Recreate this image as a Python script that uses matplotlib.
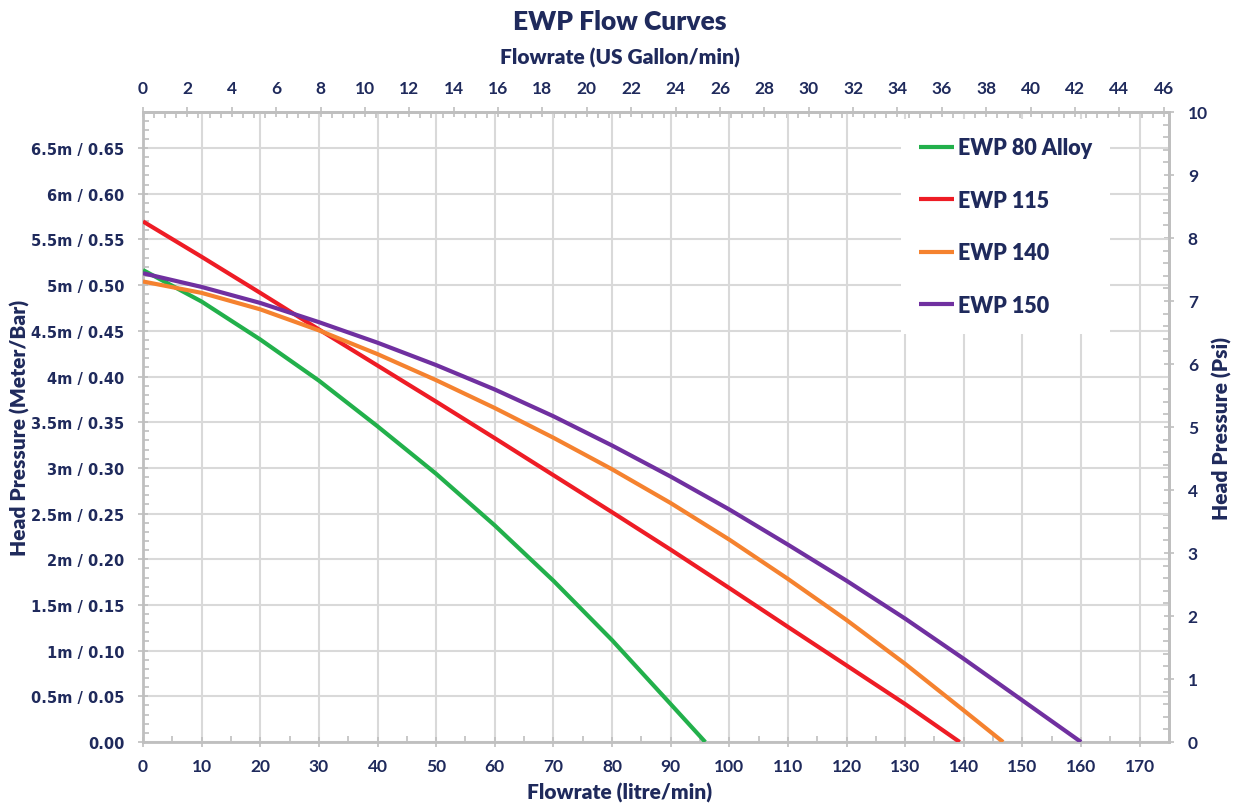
import matplotlib
matplotlib.use("Agg")
import matplotlib.pyplot as plt
from matplotlib.ticker import MultipleLocator, FixedLocator

# ---------------- data (litre/min vs bar) ----------------
ewp80_flow = [0, 10, 20, 30, 40, 50, 60, 70, 80, 90, 95.9]
ewp80_head = [0.5165, 0.482, 0.4405, 0.3955, 0.3455, 0.2935, 0.237, 0.1765, 0.1115, 0.0415, 0.0]

ewp115_flow = [0, 10, 20, 30, 40, 50, 60, 70, 80, 90, 100, 110, 120, 130, 139.3]
ewp115_head = [0.5697, 0.531, 0.4915, 0.4515, 0.412, 0.3725, 0.3325, 0.292, 0.2515, 0.2105, 0.1685, 0.126, 0.0838, 0.0415, 0.0]

ewp140_flow = [0, 10, 20, 30, 40, 50, 60, 70, 80, 90, 100, 110, 120, 130, 140, 146.7]
ewp140_head = [0.504, 0.4915, 0.4735, 0.4505, 0.4245, 0.396, 0.3655, 0.333, 0.2985, 0.2615, 0.2215, 0.1785, 0.1335, 0.0855, 0.0345, 0.0]

ewp150_flow = [0, 10, 20, 30, 40, 50, 60, 70, 80, 90, 100, 110, 120, 130, 140, 150, 160]
ewp150_head = [0.513, 0.498, 0.4805, 0.4595, 0.437, 0.4125, 0.3858, 0.3565, 0.3245, 0.2905, 0.2545, 0.216, 0.1765, 0.135, 0.091, 0.0455, 0.0]

series_names = ["EWP 80 Alloy", "EWP 115", "EWP 140", "EWP 150"]
series_colors = ["#22b04b", "#ee1c25", "#f5822f", "#7030a0"]

bottom_ticks = list(range(0, 171, 10))
top_ticks = list(range(0, 47, 2))
left_ticks = [i * 0.05 for i in range(14)]
left_labels = ["0.00"] + [f"{b*10:g}m / {b:.2f}" for b in left_ticks[1:]]
right_ticks = list(range(0, 11))

LITRE_PER_GAL = 3.785
PSI_PER_BAR = 14.5038

# ---------------- styling ----------------
NAVY = "#1f2a5c"
SPINE = "#bfbfbf"
GRID = "#d9d9d9"
FONT = ["Lato", "DejaVu Sans"]

fig = plt.figure(figsize=(12.39, 8.04), dpi=100)
ax = fig.add_axes([143 / 1239, 61 / 804, 1026 / 1239, 630 / 804])

flows = [ewp80_flow, ewp115_flow, ewp140_flow, ewp150_flow]
heads = [ewp80_head, ewp115_head, ewp140_head, ewp150_head]
for f, h, name, c in zip(flows, heads, series_names, series_colors):
    ax.plot(f, h, color=c, lw=3.0, label=name, solid_capstyle="butt",
            solid_joinstyle="round", zorder=3)

ax.set_xlim(0, 175)
ax.set_ylim(0, 10 / PSI_PER_BAR)

ax.xaxis.set_major_locator(FixedLocator(bottom_ticks))
ax.xaxis.set_minor_locator(MultipleLocator(5))
ax.yaxis.set_major_locator(FixedLocator(left_ticks))
ax.yaxis.set_minor_locator(MultipleLocator(0.01))
ax.set_yticklabels(left_labels)

ax.grid(which="major", color=GRID, lw=1.5, zorder=0)
ax.set_axisbelow(True)

for s in ax.spines.values():
    s.set_color(SPINE)
    s.set_linewidth(2)

def style_ticks(a, axis):
    a.tick_params(axis=axis, which="major", direction="inout", length=7, width=1.2,
                  color=SPINE, labelcolor=NAVY, pad=8)
    a.tick_params(axis=axis, which="minor", direction="in", length=4, width=1.2, color=SPINE)

style_ticks(ax, "x")
style_ticks(ax, "y")
for lab in ax.get_xticklabels():
    lab.set_fontfamily(FONT); lab.set_fontweight("bold"); lab.set_fontsize(12.5)
for lab in ax.get_yticklabels():
    lab.set_fontfamily(["DejaVu Sans"]); lab.set_fontweight("bold"); lab.set_fontsize(10.5)
ax.tick_params(axis="y", which="major", pad=10)

# top axis: US gallon/min
top = ax.secondary_xaxis("top", functions=(lambda x: x / LITRE_PER_GAL, lambda g: g * LITRE_PER_GAL))
top.xaxis.set_major_locator(FixedLocator(top_ticks))
top.xaxis.set_minor_locator(MultipleLocator(0.5))
style_ticks(top, "x")
top.spines["top"].set_color(SPINE)
top.spines["top"].set_linewidth(2)
for lab in top.get_xticklabels():
    lab.set_fontfamily(FONT); lab.set_fontweight("bold"); lab.set_fontsize(12.5)

# right axis: psi
right = ax.secondary_yaxis("right", functions=(lambda b: b * PSI_PER_BAR, lambda p: p / PSI_PER_BAR))
right.yaxis.set_major_locator(FixedLocator(right_ticks))
right.yaxis.set_minor_locator(MultipleLocator(0.2))
style_ticks(right, "y")
right.tick_params(axis="y", which="major", pad=10)
right.spines["right"].set_color(SPINE)
right.spines["right"].set_linewidth(2)
for lab in right.get_yticklabels():
    lab.set_fontfamily(FONT); lab.set_fontweight("bold"); lab.set_fontsize(12.5)

# labels
lab_kw = dict(color=NAVY, fontweight="heavy", fontfamily=FONT, fontsize=15)
fig.text(0.5, 1 - 22 / 804, "EWP Flow Curves", ha="center", va="center",
         color=NAVY, fontweight="heavy", fontfamily=FONT, fontsize=19)
fig.text(0.5, 1 - 58 / 804, "Flowrate (US Gallon/min)", ha="center", va="center", **lab_kw)
fig.text(0.5, 1 - 793 / 804, "Flowrate (litre/min)", ha="center", va="center", **lab_kw)
fig.text(20 / 1239, 1 - 428 / 804, "Head Pressure (Meter/Bar)", ha="center", va="center",
         rotation=90, **lab_kw)
fig.text(1222 / 1239, 1 - 428 / 804, "Head Pressure (Psi)", ha="center", va="center",
         rotation=90, **lab_kw)

# legend
leg = ax.legend(loc="upper right", bbox_to_anchor=((1121 - 143) / 1026, (743 - 109) / 630),
                frameon=True, facecolor="white", edgecolor="none", framealpha=1.0,
                fancybox=False, borderpad=0.85, labelspacing=1.47, handlelength=1.65,
                handletextpad=0.15, prop={"family": FONT, "weight": "heavy", "size": 15.5})
for t in leg.get_texts():
    t.set_color(NAVY)
for h in leg.get_lines():
    h.set_linewidth(3.0)
leg.set_zorder(5)

fig.savefig("out.png", dpi=100)
